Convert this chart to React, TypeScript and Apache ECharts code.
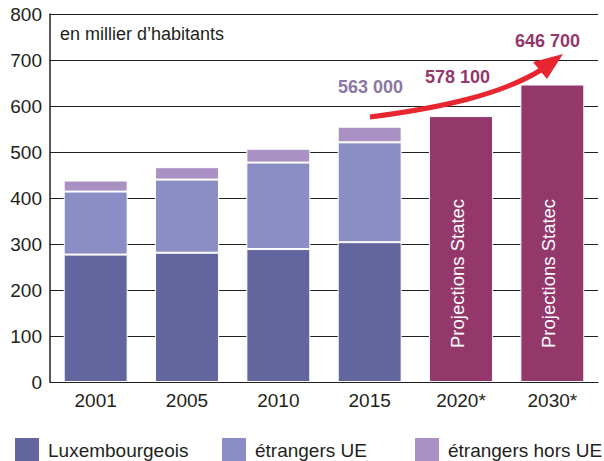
import React, { useEffect, useRef } from "react";
import * as echarts from "echarts";

const categories = ["2001", "2005", "2010", "2015", "2020*", "2030*"];
const luxembourgeois = [277, 281, 289, 304, null, null];
const etrangersUE = [137, 159, 188, 217, null, null];
const etrangersHorsUE = [24, 27, 30, 34, null, null];
const projections = [null, null, null, null, 578.1, 646.7];
const seriesNames = ["Luxembourgeois", "étrangers UE", "étrangers hors UE", "Projections"];
const yMin = 0;
const yMax = 800;
const yInterval = 100;
const unitLabel = "en millier d’habitants";
const projectionLabel = "Projections Statec";
const totalLabels = ["563 000", "578 100", "646 700"];

const FONT = "'Liberation Sans', Arial, Helvetica, sans-serif";
const TXT = "#231f20";
const C_LUX = "#63669e";
const C_UE = "#8a8ec4";
const C_HORS = "#a991c3";
const C_PROJ = "#94386c";

export default function App() {
  const ref = useRef<HTMLDivElement>(null);
  useEffect(() => {
    if (!ref.current) return;
    const chart = echarts.init(ref.current, undefined, { renderer: "svg" });
    const barStyle = (c: string) => ({ color: c, borderColor: "#ffffff", borderWidth: 1 });
    const legendBase = {
      orient: "horizontal",
      top: 436,
      padding: 0,
      itemWidth: 26,
      itemHeight: 26,
      icon: "rect",
      selectedMode: false,
      textStyle: { fontSize: 19, color: TXT, fontFamily: FONT, padding: [0, 0, 0, 3] },
    };
    chart.setOption({
      animation: false,
      textStyle: { fontFamily: FONT },
      grid: { left: 50, right: 6, top: 14, bottom: 79, containLabel: false },
      legend: [
        { ...legendBase, left: 13, data: [seriesNames[0]] },
        { ...legendBase, left: 220, data: [seriesNames[1]] },
        { ...legendBase, left: 413, data: [seriesNames[2]] },
      ],
      xAxis: {
        type: "category",
        data: categories,
        axisLine: { show: true, lineStyle: { color: TXT, width: 1.2 } },
        axisTick: { show: false },
        axisLabel: { fontSize: 19, color: TXT, fontFamily: FONT, margin: 9 },
      },
      yAxis: {
        type: "value",
        min: yMin,
        max: yMax,
        interval: yInterval,
        axisLine: { show: true, lineStyle: { color: TXT, width: 1.5 } },
        axisTick: { show: false },
        axisLabel: { fontSize: 19, color: TXT, fontFamily: FONT, margin: 8 },
        splitLine: { show: true, lineStyle: { color: TXT, width: 1.2 } },
      },
      series: [
        {
          name: seriesNames[0], type: "bar", stack: "t", data: luxembourgeois,
          barCategoryGap: "30%", itemStyle: barStyle(C_LUX),
        },
        { name: seriesNames[1], type: "bar", stack: "t", data: etrangersUE, itemStyle: barStyle(C_UE) },
        { name: seriesNames[2], type: "bar", stack: "t", data: etrangersHorsUE, itemStyle: barStyle(C_HORS) },
        {
          name: seriesNames[3], type: "bar", stack: "t", data: projections, itemStyle: barStyle(C_PROJ),
          label: {
            show: true,
            position: "insideBottom",
            rotate: 90,
            align: "left",
            verticalAlign: "middle",
            distance: 34,
            offset: [0, -4],
            formatter: projectionLabel,
            color: "#ffffff",
            fontSize: 18.5,
            fontFamily: FONT,
          },
        },
      ],
      graphic: [
        {
          type: "text", left: 60, top: 25,
          style: { text: unitLabel, fill: TXT, fontSize: 18, fontFamily: FONT },
        },
        {
          type: "text", x: 338, y: 87,
          style: { text: totalLabels[0], fill: "#8b77a5", fontSize: 18, fontWeight: "bold", fontFamily: FONT, verticalAlign: "middle" },
        },
        {
          type: "text", x: 425, y: 77,
          style: { text: totalLabels[1], fill: C_PROJ, fontSize: 18, fontWeight: "bold", fontFamily: FONT, verticalAlign: "middle" },
        },
        {
          type: "text", x: 515, y: 41,
          style: { text: totalLabels[2], fill: C_PROJ, fontSize: 18, fontWeight: "bold", fontFamily: FONT, verticalAlign: "middle" },
        },
        {
          type: "bezierCurve",
          shape: { x1: 370, y1: 117, cpx1: 440, cpy1: 108, cpx2: 500, cpy2: 95, x2: 541, y2: 70 },
          style: { stroke: "#e8262f", lineWidth: 5, fill: null },
          z: 10,
        },
        {
          type: "polygon",
          shape: { points: [[563, 54], [533, 62], [547, 79]] },
          style: { fill: "#e8262f" },
          z: 10,
        },
      ],
    });
    return () => chart.dispose();
  }, []);
  return <div ref={ref} style={{ width: 604, height: 461, position: "absolute", left: 0, top: 0 }} />;
}
